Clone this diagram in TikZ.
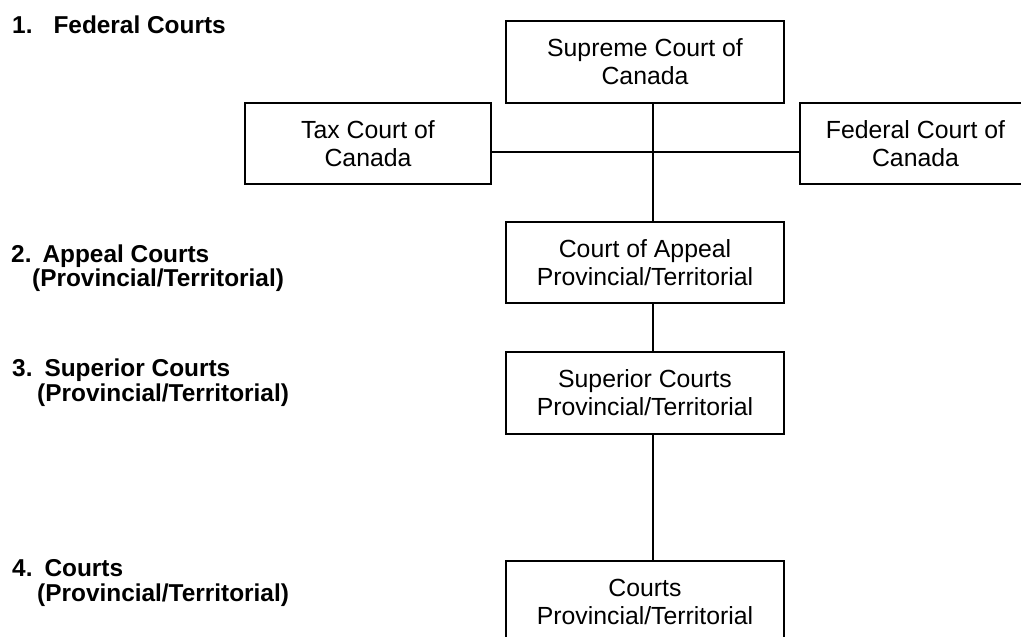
\documentclass[tikz,border=0pt]{standalone}
\usepackage{fontspec}
\setmainfont{Liberation Sans}
\newcommand\bxfont{\fontsize{24.8}{28}\selectfont}
\newcommand\lbfont{\fontsize{24.4}{25}\selectfont\bfseries}
\tikzset{
  courtbox/.style={draw, line width=1.3pt, inner sep=0pt, align=center, font=\bxfont},
  lvl/.style={inner sep=0pt, anchor=base west, font=\lbfont},
  link/.style={line width=1.3pt}
}
\begin{document}
\begin{tikzpicture}[x=1pt,y=-1pt]
\useasboundingbox (0,0) rectangle (1021,637);
\clip (0,0) rectangle (1021,637);
% boxes
\node[courtbox, minimum width=278pt, minimum height=82pt] (sup) at (645,62) {Supreme Court of\\Canada};
\node[courtbox, minimum width=246pt, minimum height=81pt] (tax) at (368,143.5) {Tax Court of\\Canada};
\node[courtbox, minimum width=231pt, minimum height=81pt] (fed) at (915.5,143.5) {Federal Court of\\Canada};
\node[courtbox, minimum width=278pt, minimum height=81pt] (app) at (645,262.5) {Court of Appeal\\Provincial/Territorial};
\node[courtbox, minimum width=278pt, minimum height=82pt] (supc) at (645,393) {Superior Courts\\Provincial/Territorial};
\node[courtbox, minimum width=278pt, minimum height=81pt] (crt) at (645,601.5) {Courts\\Provincial/Territorial};
% connectors
\coordinate (j) at (653,152);
\draw[link] (sup.south -| j) -- (app.north -| j);
\draw[link] (tax.east |- j) -- (fed.west |- j);
\draw[link] (app.south -| j) -- (supc.north -| j);
\draw[link] (supc.south -| j) -- ([yshift=-2pt]crt.north -| j);
% level labels
\node[lvl] (l1) at (12,33) {1.\hspace{21pt}Federal Courts};
\node[lvl] (l2a) at (11,262) {2.\hspace{11pt}Appeal Courts};
\node[lvl] (l2b) at (32,286) {(Provincial/Territorial)};
\node[lvl] (l3a) at (12,376) {3.\hspace{12pt}Superior Courts};
\node[lvl] (l3b) at (37,401) {(Provincial/Territorial)};
\node[lvl] (l4a) at (12,576) {4.\hspace{12pt}Courts};
\node[lvl] (l4b) at (37,601) {(Provincial/Territorial)};
\end{tikzpicture}
\end{document}
